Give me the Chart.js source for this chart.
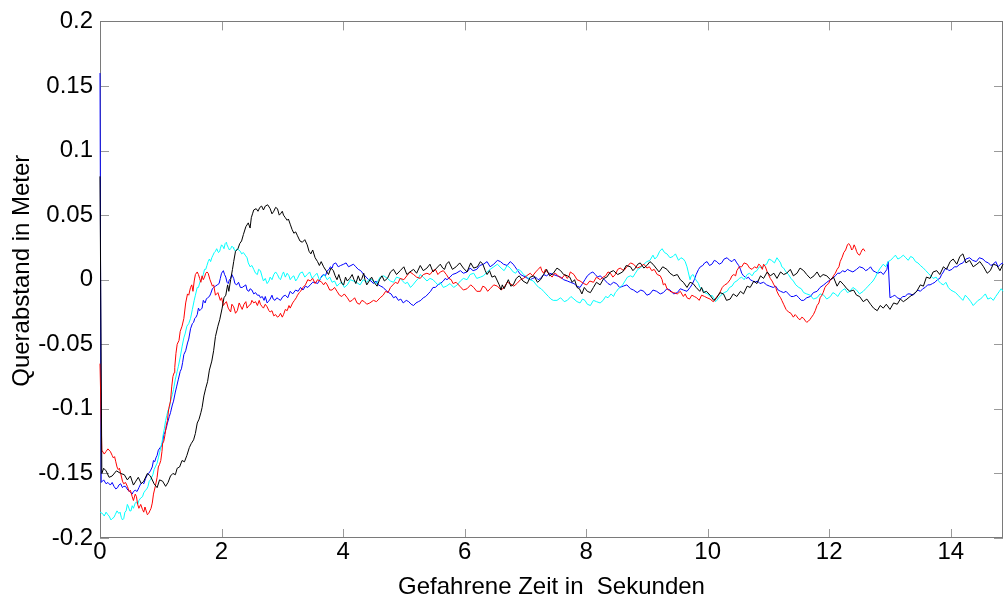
<!DOCTYPE html>
<html>
<head>
<meta charset="utf-8">
<script src="https://cdn.jsdelivr.net/npm/chart.js@4.4.1/dist/chart.umd.min.js"></script>
<style>
  html, body { margin: 0; padding: 0; background: #ffffff; }
  #c { display: block; }
</style>
</head>
<body>
<canvas id="c" width="1004" height="602"></canvas>
<script>
// Lateral offset (m) over driving time (s) for four runs, as [time, offset] pairs.
const blackRun = [[0,0.08],[0.03,-0.15],[0.06,-0.146],[0.1,-0.148],[0.15,-0.153],[0.2,-0.152],[0.27,-0.148],[0.34,-0.15],[0.4,-0.151],[0.45,-0.155],[0.5,-0.152],[0.55,-0.159],[0.59,-0.156],[0.63,-0.153],[0.68,-0.158],[0.72,-0.156],[0.78,-0.15],[0.83,-0.152],[0.89,-0.158],[0.94,-0.161],[0.98,-0.155],[1.03,-0.156],[1.08,-0.16],[1.12,-0.157],[1.16,-0.152],[1.2,-0.15],[1.24,-0.151],[1.27,-0.146],[1.31,-0.145],[1.35,-0.14],[1.39,-0.141],[1.43,-0.136],[1.47,-0.13],[1.5,-0.127],[1.54,-0.124],[1.57,-0.119],[1.6,-0.111],[1.63,-0.108],[1.66,-0.103],[1.68,-0.099],[1.71,-0.09],[1.74,-0.084],[1.77,-0.079],[1.8,-0.07],[1.84,-0.063],[1.87,-0.055],[1.9,-0.044],[1.94,-0.036],[1.97,-0.031],[2.01,-0.022],[2.04,-0.014],[2.07,-0.012],[2.1,-0.004],[2.12,-0.009],[2.15,0.0],[2.18,0.008],[2.2,0.014],[2.23,0.022],[2.27,0.024],[2.3,0.028],[2.33,0.03],[2.36,0.035],[2.4,0.041],[2.44,0.044],[2.47,0.04],[2.49,0.048],[2.51,0.051],[2.53,0.054],[2.57,0.055],[2.6,0.053],[2.63,0.056],[2.66,0.057],[2.69,0.054],[2.72,0.057],[2.76,0.058],[2.8,0.055],[2.83,0.051],[2.86,0.053],[2.89,0.056],[2.92,0.055],[2.95,0.05],[2.97,0.051],[3.0,0.053],[3.02,0.05],[3.05,0.048],[3.08,0.046],[3.1,0.047],[3.13,0.043],[3.16,0.039],[3.19,0.036],[3.22,0.037],[3.25,0.034],[3.29,0.03],[3.33,0.029],[3.37,0.031],[3.41,0.027],[3.44,0.022],[3.47,0.02],[3.5,0.023],[3.54,0.017],[3.58,0.014],[3.61,0.011],[3.64,0.014],[3.68,0.01],[3.72,0.007],[3.76,0.004],[3.8,0.009],[3.84,0.007],[3.87,0.003],[3.9,0.0],[3.93,0.004],[3.95,0.001],[3.98,-0.003],[4.01,-0.004],[4.04,0.002],[4.07,-0.001],[4.11,0.001],[4.15,0.004],[4.18,0.0],[4.21,-0.003],[4.25,0.003],[4.28,-0.001],[4.31,0.001],[4.34,0.005],[4.36,0.0],[4.39,-0.004],[4.43,-0.001],[4.47,0.002],[4.51,-0.002],[4.56,-0.005],[4.6,0.0],[4.64,0.003],[4.68,-0.001],[4.73,0.001],[4.78,0.006],[4.83,0.008],[4.88,0.004],[4.94,0.007],[5.0,0.01],[5.05,0.004],[5.1,0.006],[5.16,0.008],[5.21,0.005],[5.27,0.011],[5.32,0.007],[5.38,0.009],[5.43,0.012],[5.48,0.006],[5.54,0.009],[5.6,0.012],[5.64,0.009],[5.67,0.008],[5.7,0.012],[5.74,0.014],[5.8,0.008],[5.86,0.01],[5.92,0.013],[5.98,0.009],[6.04,0.006],[6.1,0.013],[6.15,0.009],[6.21,0.01],[6.26,0.014],[6.3,0.012],[6.34,0.007],[6.37,0.004],[6.41,0.007],[6.45,0.002],[6.5,0.003],[6.54,-0.001],[6.57,-0.004],[6.6,-0.008],[6.62,-0.004],[6.65,-0.007],[6.69,-0.003],[6.72,0.0],[6.76,-0.005],[6.8,-0.004],[6.85,0.001],[6.9,0.003],[6.96,-0.001],[7.03,-0.003],[7.08,0.002],[7.14,0.003],[7.2,-0.002],[7.25,0.0],[7.3,0.004],[7.35,0.008],[7.4,0.003],[7.46,0.005],[7.52,0.009],[7.58,0.007],[7.63,0.004],[7.69,0.003],[7.73,0.002],[7.77,-0.002],[7.81,0.0],[7.85,-0.006],[7.89,-0.007],[7.93,-0.011],[7.97,-0.006],[8.02,-0.009],[8.07,-0.01],[8.12,-0.006],[8.17,-0.002],[8.23,-0.004],[8.29,0.001],[8.34,0.002],[8.4,0.006],[8.45,0.007],[8.52,0.004],[8.6,0.006],[8.66,0.011],[8.73,0.01],[8.77,0.007],[8.81,0.009],[8.85,0.012],[8.89,0.013],[8.95,0.009],[9.0,0.011],[9.05,0.014],[9.1,0.012],[9.15,0.009],[9.2,0.006],[9.26,0.01],[9.33,0.008],[9.38,0.005],[9.44,0.003],[9.5,0.004],[9.55,0.0],[9.6,-0.002],[9.66,-0.006],[9.71,-0.002],[9.76,-0.003],[9.81,-0.006],[9.87,-0.009],[9.9,-0.006],[9.93,-0.01],[9.98,-0.009],[10.04,-0.012],[10.1,-0.016],[10.15,-0.014],[10.2,-0.01],[10.26,-0.011],[10.31,-0.016],[10.37,-0.015],[10.42,-0.011],[10.48,-0.013],[10.54,-0.009],[10.59,-0.011],[10.65,-0.005],[10.7,-0.006],[10.76,-0.001],[10.81,-0.003],[10.87,0.003],[10.92,0.001],[10.98,0.006],[11.03,0.003],[11.09,0.005],[11.14,0.001],[11.2,0.006],[11.25,0.004],[11.3,0.005],[11.36,0.008],[11.41,0.003],[11.47,0.005],[11.52,0.009],[11.58,0.007],[11.63,0.004],[11.69,0.001],[11.75,0.003],[11.8,0.006],[11.85,0.002],[11.9,0.004],[11.96,0.003],[12.02,0.0],[12.07,0.002],[12.13,-0.005],[12.18,-0.001],[12.24,-0.004],[12.29,-0.007],[12.34,-0.009],[12.4,-0.008],[12.45,-0.012],[12.5,-0.013],[12.56,-0.017],[12.62,-0.015],[12.68,-0.019],[12.73,-0.022],[12.79,-0.024],[12.84,-0.02],[12.89,-0.022],[12.94,-0.019],[13.0,-0.023],[13.06,-0.018],[13.12,-0.019],[13.17,-0.015],[13.22,-0.017],[13.28,-0.015],[13.33,-0.013],[13.39,-0.011],[13.44,-0.009],[13.5,-0.004],[13.55,-0.005],[13.6,0.002],[13.66,0.001],[13.71,0.006],[13.77,0.007],[13.82,0.004],[13.88,0.01],[13.93,0.008],[13.99,0.014],[14.04,0.016],[14.1,0.012],[14.15,0.018],[14.2,0.02],[14.25,0.013],[14.31,0.015],[14.37,0.01],[14.43,0.012],[14.48,0.014],[14.54,0.01],[14.6,0.005],[14.65,0.007],[14.7,0.012],[14.76,0.011],[14.81,0.007],[14.86,0.012]];

const redRun = [[0,-0.065],[0.03,-0.132],[0.07,-0.135],[0.1,-0.133],[0.13,-0.131],[0.17,-0.133],[0.2,-0.136],[0.22,-0.138],[0.24,-0.137],[0.26,-0.141],[0.28,-0.145],[0.3,-0.147],[0.32,-0.146],[0.34,-0.15],[0.37,-0.156],[0.39,-0.158],[0.42,-0.157],[0.45,-0.16],[0.48,-0.164],[0.5,-0.163],[0.53,-0.168],[0.55,-0.171],[0.58,-0.166],[0.6,-0.168],[0.62,-0.174],[0.64,-0.177],[0.67,-0.174],[0.7,-0.178],[0.72,-0.18],[0.74,-0.176],[0.76,-0.179],[0.78,-0.182],[0.8,-0.181],[0.82,-0.179],[0.84,-0.177],[0.86,-0.173],[0.88,-0.166],[0.91,-0.16],[0.94,-0.153],[0.96,-0.145],[0.98,-0.143],[1.0,-0.14],[1.02,-0.133],[1.03,-0.127],[1.05,-0.125],[1.07,-0.12],[1.09,-0.113],[1.11,-0.109],[1.13,-0.1],[1.16,-0.094],[1.18,-0.083],[1.2,-0.075],[1.22,-0.072],[1.23,-0.068],[1.25,-0.057],[1.27,-0.05],[1.3,-0.047],[1.32,-0.04],[1.35,-0.036],[1.38,-0.03],[1.41,-0.018],[1.44,-0.011],[1.46,-0.012],[1.49,-0.006],[1.51,-0.004],[1.53,-0.009],[1.55,-0.001],[1.57,0.004],[1.6,0.006],[1.62,0.004],[1.64,0.001],[1.66,-0.002],[1.68,0.003],[1.7,0.0],[1.72,0.002],[1.74,0.005],[1.76,0.006],[1.78,0.005],[1.81,0.0],[1.85,-0.005],[1.87,-0.004],[1.9,-0.012],[1.94,-0.01],[1.98,-0.016],[2.0,-0.014],[2.03,-0.02],[2.06,-0.018],[2.08,-0.017],[2.11,-0.022],[2.15,-0.025],[2.17,-0.019],[2.2,-0.021],[2.23,-0.026],[2.26,-0.024],[2.29,-0.018],[2.31,-0.02],[2.34,-0.023],[2.37,-0.019],[2.4,-0.017],[2.42,-0.022],[2.45,-0.02],[2.48,-0.019],[2.5,-0.016],[2.53,-0.018],[2.56,-0.017],[2.59,-0.02],[2.62,-0.016],[2.64,-0.019],[2.67,-0.021],[2.69,-0.022],[2.72,-0.019],[2.75,-0.021],[2.78,-0.024],[2.8,-0.025],[2.83,-0.024],[2.86,-0.028],[2.89,-0.027],[2.92,-0.029],[2.95,-0.028],[2.97,-0.026],[3.0,-0.029],[3.02,-0.027],[3.05,-0.023],[3.08,-0.024],[3.11,-0.02],[3.13,-0.022],[3.17,-0.018],[3.2,-0.016],[3.23,-0.014],[3.25,-0.012],[3.28,-0.01],[3.3,-0.009],[3.34,-0.006],[3.38,-0.004],[3.42,0.0],[3.46,-0.001],[3.5,0.001],[3.54,-0.003],[3.58,0.0],[3.62,-0.001],[3.65,-0.002],[3.68,-0.004],[3.71,-0.002],[3.74,-0.004],[3.78,-0.008],[3.82,-0.008],[3.86,-0.006],[3.9,-0.009],[3.94,-0.012],[3.98,-0.013],[4.02,-0.011],[4.07,-0.014],[4.11,-0.017],[4.15,-0.016],[4.19,-0.014],[4.23,-0.018],[4.27,-0.019],[4.31,-0.016],[4.35,-0.017],[4.39,-0.019],[4.44,-0.018],[4.5,-0.016],[4.55,-0.017],[4.61,-0.014],[4.66,-0.012],[4.7,-0.009],[4.74,-0.01],[4.78,-0.006],[4.82,-0.004],[4.86,-0.002],[4.9,-0.003],[4.94,0.001],[5.0,0.0],[5.05,0.003],[5.1,0.006],[5.16,0.004],[5.21,0.002],[5.27,0.001],[5.32,0.004],[5.38,0.005],[5.43,0.004],[5.48,0.007],[5.52,0.008],[5.56,0.004],[5.6,0.006],[5.65,0.007],[5.7,0.004],[5.74,0.001],[5.78,0.0],[5.81,-0.003],[5.86,-0.002],[5.92,-0.005],[5.98,-0.008],[6.04,-0.007],[6.1,-0.004],[6.15,-0.006],[6.2,-0.009],[6.26,-0.009],[6.3,-0.005],[6.34,-0.006],[6.38,-0.009],[6.42,-0.007],[6.48,-0.004],[6.54,-0.005],[6.6,-0.008],[6.65,-0.006],[6.7,-0.002],[6.75,-0.003],[6.81,-0.005],[6.86,-0.003],[6.92,0.0],[6.97,0.001],[7.02,0.003],[7.08,0.005],[7.12,0.003],[7.17,0.006],[7.21,0.008],[7.25,0.01],[7.27,0.007],[7.3,0.005],[7.33,0.008],[7.36,0.006],[7.4,0.004],[7.44,0.002],[7.48,0.005],[7.52,0.004],[7.56,0.002],[7.6,0.001],[7.65,0.004],[7.69,0.001],[7.72,0.003],[7.74,0.006],[7.77,0.005],[7.8,0.004],[7.85,0.0],[7.9,-0.001],[7.96,-0.003],[8.01,-0.004],[8.06,-0.001],[8.12,-0.002],[8.17,0.002],[8.23,0.0],[8.28,0.002],[8.32,0.003],[8.36,0.006],[8.4,0.005],[8.44,0.002],[8.48,0.004],[8.52,0.008],[8.56,0.009],[8.62,0.007],[8.67,0.01],[8.73,0.013],[8.78,0.012],[8.84,0.009],[8.89,0.01],[8.95,0.012],[9.0,0.009],[9.04,0.01],[9.08,0.007],[9.12,0.008],[9.17,0.004],[9.22,0.003],[9.25,0.0],[9.27,-0.004],[9.3,-0.003],[9.33,-0.007],[9.36,-0.008],[9.38,-0.009],[9.44,-0.01],[9.5,-0.011],[9.55,-0.009],[9.6,-0.013],[9.63,-0.011],[9.66,-0.014],[9.7,-0.015],[9.74,-0.012],[9.78,-0.013],[9.82,-0.014],[9.86,-0.016],[9.9,-0.012],[9.95,-0.013],[9.99,-0.014],[10.04,-0.015],[10.09,-0.017],[10.12,-0.016],[10.15,-0.013],[10.18,-0.012],[10.2,-0.01],[10.24,-0.006],[10.28,-0.004],[10.32,-0.003],[10.37,0.0],[10.4,0.003],[10.43,0.004],[10.46,0.003],[10.48,0.007],[10.52,0.01],[10.56,0.01],[10.6,0.013],[10.65,0.012],[10.69,0.009],[10.73,0.008],[10.77,0.01],[10.81,0.009],[10.84,0.012],[10.87,0.011],[10.9,0.008],[10.92,0.012],[10.95,0.01],[10.98,0.006],[11.0,0.004],[11.03,0.001],[11.06,-0.001],[11.09,-0.004],[11.12,-0.006],[11.14,-0.009],[11.17,-0.012],[11.2,-0.014],[11.22,-0.016],[11.25,-0.019],[11.29,-0.023],[11.33,-0.025],[11.37,-0.026],[11.41,-0.029],[11.44,-0.027],[11.46,-0.028],[11.49,-0.03],[11.52,-0.031],[11.55,-0.029],[11.58,-0.03],[11.61,-0.032],[11.63,-0.033],[11.66,-0.032],[11.68,-0.031],[11.71,-0.029],[11.74,-0.027],[11.77,-0.024],[11.8,-0.02],[11.83,-0.018],[11.85,-0.014],[11.88,-0.012],[11.9,-0.01],[11.93,-0.006],[11.96,-0.004],[11.99,-0.003],[12.02,0.0],[12.05,0.001],[12.07,0.003],[12.1,0.005],[12.13,0.008],[12.16,0.01],[12.18,0.014],[12.21,0.017],[12.24,0.021],[12.27,0.023],[12.3,0.027],[12.32,0.028],[12.35,0.026],[12.37,0.023],[12.39,0.024],[12.41,0.027],[12.43,0.025],[12.45,0.022],[12.47,0.02],[12.5,0.019],[12.52,0.021],[12.54,0.023],[12.56,0.024],[12.59,0.022]];

const cyanRun = [[0,-0.18],[0.04,-0.181],[0.07,-0.183],[0.1,-0.18],[0.13,-0.182],[0.15,-0.183],[0.18,-0.186],[0.2,-0.185],[0.23,-0.184],[0.25,-0.182],[0.28,-0.179],[0.31,-0.181],[0.33,-0.18],[0.35,-0.184],[0.37,-0.186],[0.39,-0.185],[0.41,-0.18],[0.43,-0.179],[0.45,-0.174],[0.47,-0.176],[0.49,-0.179],[0.51,-0.179],[0.53,-0.175],[0.55,-0.177],[0.58,-0.173],[0.6,-0.172],[0.62,-0.174],[0.64,-0.171],[0.67,-0.169],[0.7,-0.168],[0.72,-0.165],[0.75,-0.163],[0.77,-0.162],[0.79,-0.16],[0.81,-0.156],[0.83,-0.155],[0.85,-0.153],[0.87,-0.151],[0.89,-0.147],[0.91,-0.145],[0.94,-0.142],[0.96,-0.138],[0.98,-0.134],[1.0,-0.13],[1.02,-0.126],[1.04,-0.12],[1.06,-0.115],[1.08,-0.109],[1.1,-0.105],[1.12,-0.101],[1.14,-0.1],[1.16,-0.094],[1.19,-0.089],[1.21,-0.085],[1.24,-0.077],[1.27,-0.071],[1.29,-0.067],[1.32,-0.06],[1.35,-0.052],[1.38,-0.045],[1.4,-0.042],[1.43,-0.036],[1.46,-0.034],[1.49,-0.03],[1.52,-0.023],[1.55,-0.016],[1.57,-0.012],[1.6,-0.006],[1.62,-0.006],[1.65,-0.001],[1.67,0.0],[1.7,0.004],[1.72,0.008],[1.74,0.008],[1.76,0.011],[1.78,0.014],[1.8,0.016],[1.82,0.014],[1.84,0.017],[1.86,0.019],[1.88,0.021],[1.9,0.022],[1.92,0.024],[1.95,0.021],[1.97,0.022],[1.98,0.024],[2.0,0.027],[2.02,0.026],[2.04,0.024],[2.06,0.028],[2.08,0.029],[2.09,0.027],[2.11,0.025],[2.13,0.023],[2.15,0.024],[2.17,0.026],[2.19,0.025],[2.2,0.024],[2.23,0.022],[2.26,0.024],[2.28,0.023],[2.31,0.022],[2.33,0.02],[2.36,0.021],[2.39,0.019],[2.42,0.017],[2.44,0.013],[2.47,0.01],[2.5,0.011],[2.53,0.008],[2.56,0.005],[2.59,0.004],[2.61,0.008],[2.64,0.007],[2.67,0.002],[2.69,-0.001],[2.72,0.001],[2.75,-0.003],[2.78,-0.001],[2.8,0.002],[2.83,0.0],[2.86,0.004],[2.89,0.006],[2.92,0.004],[2.95,0.001],[2.97,0.0],[3.0,0.004],[3.02,0.006],[3.05,0.002],[3.08,0.005],[3.11,0.003],[3.13,0.0],[3.16,0.002],[3.19,0.003],[3.22,-0.001],[3.25,0.001],[3.29,0.005],[3.33,0.006],[3.37,0.002],[3.41,0.004],[3.45,0.006],[3.49,0.001],[3.53,0.003],[3.57,0.005],[3.61,0.0],[3.65,0.002],[3.69,0.004],[3.74,0.0],[3.78,0.002],[3.82,-0.002],[3.86,-0.001],[3.9,-0.005],[3.94,-0.003],[3.98,-0.002],[4.02,-0.006],[4.07,-0.004],[4.12,0.0],[4.17,-0.001],[4.22,-0.002],[4.28,-0.004],[4.33,0.0],[4.39,-0.002],[4.44,0.001],[4.5,-0.001],[4.55,-0.003],[4.61,0.002],[4.67,0.003],[4.73,0.001],[4.78,-0.001],[4.83,-0.002],[4.88,0.002],[4.94,0.001],[4.98,-0.001],[5.02,-0.003],[5.06,-0.002],[5.11,-0.006],[5.15,-0.004],[5.2,-0.001],[5.24,0.001],[5.27,0.004],[5.32,0.002],[5.38,-0.001],[5.43,0.001],[5.48,0.0],[5.52,-0.002],[5.56,-0.004],[5.6,-0.002],[5.65,-0.006],[5.7,-0.005],[5.76,-0.003],[5.82,-0.006],[5.88,-0.004],[5.93,-0.001],[5.98,0.001],[6.04,0.0],[6.09,0.004],[6.15,0.005],[6.2,0.001],[6.26,0.002],[6.31,0.003],[6.37,0.006],[6.42,0.008],[6.48,0.01],[6.54,0.012],[6.6,0.009],[6.65,0.007],[6.7,0.011],[6.75,0.009],[6.8,0.006],[6.84,0.005],[6.88,0.008],[6.92,0.007],[6.97,0.004],[7.03,0.002],[7.08,0.0],[7.13,-0.001],[7.18,-0.004],[7.22,-0.006],[7.26,-0.007],[7.3,-0.009],[7.34,-0.011],[7.38,-0.013],[7.42,-0.015],[7.46,-0.016],[7.52,-0.016],[7.58,-0.014],[7.64,-0.017],[7.69,-0.016],[7.75,-0.013],[7.8,-0.015],[7.85,-0.017],[7.9,-0.018],[7.94,-0.015],[7.98,-0.016],[8.02,-0.019],[8.07,-0.02],[8.12,-0.016],[8.17,-0.017],[8.23,-0.018],[8.28,-0.016],[8.32,-0.013],[8.36,-0.014],[8.41,-0.011],[8.45,-0.013],[8.48,-0.01],[8.5,-0.009],[8.53,-0.007],[8.56,-0.006],[8.6,-0.004],[8.64,-0.001],[8.68,0.002],[8.73,0.003],[8.77,0.002],[8.81,0.005],[8.85,0.008],[8.89,0.009],[8.95,0.012],[9.0,0.014],[9.05,0.015],[9.1,0.019],[9.13,0.016],[9.17,0.018],[9.21,0.022],[9.25,0.024],[9.29,0.021],[9.33,0.02],[9.38,0.017],[9.43,0.018],[9.47,0.02],[9.52,0.015],[9.56,0.017],[9.6,0.016],[9.63,0.014],[9.66,0.01],[9.68,0.006],[9.71,0.0],[9.73,0.003],[9.76,0.004],[9.79,0.001],[9.82,-0.001],[9.85,-0.003],[9.87,-0.006],[9.91,-0.007],[9.95,-0.01],[10.0,-0.011],[10.04,-0.013],[10.07,-0.012],[10.1,-0.014],[10.13,-0.017],[10.15,-0.016],[10.18,-0.014],[10.22,-0.012],[10.27,-0.01],[10.32,-0.009],[10.36,-0.006],[10.4,-0.005],[10.44,-0.002],[10.48,-0.001],[10.52,0.001],[10.56,0.002],[10.6,0.0],[10.65,0.004],[10.69,0.005],[10.73,0.003],[10.77,0.006],[10.81,0.007],[10.85,0.01],[10.89,0.009],[10.93,0.011],[10.97,0.012],[11.01,0.016],[11.05,0.015],[11.1,0.013],[11.14,0.017],[11.17,0.015],[11.2,0.013],[11.22,0.01],[11.25,0.009],[11.29,0.006],[11.33,0.004],[11.37,0.001],[11.41,-0.001],[11.45,-0.004],[11.5,-0.006],[11.54,-0.007],[11.58,-0.01],[11.63,-0.011],[11.69,-0.012],[11.74,-0.015],[11.8,-0.014],[11.85,-0.011],[11.91,-0.012],[11.96,-0.015],[12.02,-0.013],[12.06,-0.01],[12.1,-0.011],[12.14,-0.013],[12.18,-0.01],[12.22,-0.008],[12.26,-0.007],[12.3,-0.01],[12.34,-0.009],[12.39,-0.006],[12.45,-0.008],[12.5,-0.011],[12.56,-0.009],[12.6,-0.007],[12.64,-0.005],[12.68,-0.003],[12.72,-0.001],[12.76,0.002],[12.8,0.006],[12.84,0.009],[12.89,0.012],[12.93,0.01],[12.97,0.014],[13.01,0.015],[13.05,0.017],[13.09,0.019],[13.13,0.016],[13.17,0.017],[13.22,0.019],[13.26,0.017],[13.3,0.015],[13.34,0.018],[13.38,0.017],[13.42,0.014],[13.46,0.013],[13.5,0.011],[13.55,0.009],[13.59,0.007],[13.63,0.005],[13.67,0.003],[13.71,0.001],[13.76,0.002],[13.8,-0.001],[13.84,-0.003],[13.88,-0.004],[13.92,-0.002],[13.96,-0.006],[14.0,-0.008],[14.04,-0.009],[14.08,-0.01],[14.12,-0.012],[14.16,-0.014],[14.2,-0.016],[14.24,-0.012],[14.28,-0.014],[14.33,-0.017],[14.37,-0.02],[14.41,-0.018],[14.45,-0.016],[14.49,-0.015],[14.53,-0.013],[14.57,-0.011],[14.61,-0.015],[14.66,-0.014],[14.7,-0.016],[14.74,-0.013],[14.77,-0.011],[14.8,-0.009],[14.83,-0.007],[14.86,-0.009]];

const blueRun = [[0,0.16],[0.02,-0.157],[0.06,-0.155],[0.1,-0.158],[0.13,-0.157],[0.17,-0.159],[0.2,-0.157],[0.23,-0.16],[0.26,-0.162],[0.29,-0.161],[0.31,-0.159],[0.34,-0.158],[0.37,-0.161],[0.39,-0.16],[0.42,-0.16],[0.46,-0.163],[0.49,-0.164],[0.53,-0.166],[0.55,-0.164],[0.58,-0.163],[0.61,-0.164],[0.64,-0.161],[0.67,-0.158],[0.7,-0.157],[0.72,-0.158],[0.75,-0.154],[0.78,-0.151],[0.8,-0.15],[0.83,-0.148],[0.86,-0.145],[0.88,-0.14],[0.9,-0.141],[0.92,-0.138],[0.94,-0.136],[0.96,-0.132],[0.99,-0.13],[1.01,-0.129],[1.03,-0.126],[1.05,-0.12],[1.07,-0.118],[1.09,-0.115],[1.11,-0.111],[1.14,-0.106],[1.16,-0.103],[1.19,-0.097],[1.21,-0.094],[1.24,-0.087],[1.26,-0.083],[1.29,-0.077],[1.32,-0.071],[1.34,-0.069],[1.36,-0.064],[1.38,-0.058],[1.41,-0.055],[1.44,-0.049],[1.46,-0.046],[1.49,-0.038],[1.52,-0.034],[1.54,-0.033],[1.56,-0.03],[1.58,-0.029],[1.6,-0.027],[1.62,-0.022],[1.64,-0.024],[1.66,-0.023],[1.68,-0.022],[1.7,-0.016],[1.73,-0.018],[1.75,-0.015],[1.77,-0.014],[1.8,-0.013],[1.82,-0.011],[1.85,-0.007],[1.87,-0.006],[1.9,-0.005],[1.93,-0.004],[1.96,-0.003],[1.98,0.001],[2.0,0.005],[2.03,0.007],[2.05,0.004],[2.07,0.002],[2.09,-0.002],[2.11,-0.003],[2.13,0.0],[2.15,0.001],[2.17,0.004],[2.2,0.001],[2.22,-0.003],[2.25,-0.004],[2.28,-0.002],[2.31,-0.006],[2.34,-0.006],[2.37,-0.005],[2.4,-0.004],[2.42,-0.008],[2.45,-0.009],[2.47,-0.007],[2.5,-0.008],[2.53,-0.011],[2.56,-0.01],[2.59,-0.012],[2.62,-0.012],[2.64,-0.014],[2.67,-0.013],[2.7,-0.016],[2.72,-0.013],[2.75,-0.018],[2.77,-0.017],[2.8,-0.015],[2.83,-0.012],[2.85,-0.015],[2.88,-0.016],[2.91,-0.014],[2.94,-0.015],[2.97,-0.016],[3.01,-0.013],[3.05,-0.012],[3.09,-0.014],[3.13,-0.009],[3.17,-0.011],[3.22,-0.008],[3.26,-0.009],[3.3,-0.006],[3.34,-0.008],[3.38,-0.005],[3.42,-0.006],[3.46,-0.004],[3.5,-0.002],[3.54,-0.002],[3.58,-0.003],[3.62,0.0],[3.65,0.003],[3.68,0.004],[3.71,0.003],[3.74,0.007],[3.77,0.008],[3.79,0.01],[3.82,0.009],[3.84,0.012],[3.88,0.013],[3.92,0.01],[3.96,0.011],[4.01,0.012],[4.05,0.013],[4.09,0.01],[4.13,0.011],[4.17,0.012],[4.21,0.01],[4.25,0.008],[4.29,0.007],[4.34,0.004],[4.38,0.002],[4.42,0.0],[4.46,-0.001],[4.5,-0.003],[4.54,-0.001],[4.58,-0.004],[4.62,-0.005],[4.66,-0.006],[4.7,-0.008],[4.75,-0.01],[4.79,-0.011],[4.83,-0.014],[4.87,-0.013],[4.91,-0.016],[4.95,-0.015],[4.99,-0.018],[5.04,-0.016],[5.08,-0.017],[5.12,-0.019],[5.16,-0.02],[5.2,-0.018],[5.24,-0.017],[5.28,-0.016],[5.32,-0.014],[5.36,-0.013],[5.4,-0.011],[5.44,-0.009],[5.48,-0.006],[5.52,-0.006],[5.56,-0.004],[5.6,-0.003],[5.65,-0.001],[5.68,0.001],[5.71,0.0],[5.76,0.002],[5.8,0.004],[5.86,0.005],[5.93,0.007],[5.98,0.005],[6.04,0.006],[6.09,0.009],[6.14,0.007],[6.2,0.008],[6.25,0.011],[6.31,0.012],[6.37,0.014],[6.42,0.01],[6.48,0.012],[6.54,0.015],[6.59,0.014],[6.64,0.012],[6.7,0.011],[6.75,0.014],[6.8,0.012],[6.83,0.01],[6.86,0.008],[6.89,0.006],[6.92,0.004],[6.96,0.003],[7.0,0.002],[7.04,0.001],[7.08,0.0],[7.12,0.001],[7.17,0.002],[7.21,0.0],[7.25,0.001],[7.3,0.004],[7.35,0.003],[7.4,0.005],[7.46,0.004],[7.52,0.003],[7.58,0.002],[7.63,0.0],[7.69,-0.001],[7.74,-0.002],[7.8,-0.003],[7.85,-0.005],[7.9,-0.006],[7.94,-0.003],[7.98,0.0],[8.02,0.003],[8.07,0.005],[8.11,0.006],[8.15,0.004],[8.19,0.002],[8.23,0.003],[8.28,0.001],[8.32,-0.001],[8.36,-0.003],[8.4,-0.004],[8.45,-0.002],[8.5,-0.003],[8.55,-0.006],[8.61,-0.005],[8.67,-0.004],[8.73,-0.007],[8.78,-0.008],[8.84,-0.01],[8.9,-0.008],[8.95,-0.009],[9.0,-0.012],[9.05,-0.011],[9.1,-0.008],[9.16,-0.009],[9.22,-0.011],[9.27,-0.01],[9.33,-0.007],[9.38,-0.008],[9.44,-0.011],[9.5,-0.01],[9.55,-0.007],[9.6,-0.008],[9.66,-0.009],[9.71,-0.006],[9.74,-0.004],[9.78,0.0],[9.81,0.004],[9.85,0.008],[9.88,0.01],[9.92,0.011],[9.95,0.013],[9.99,0.014],[10.03,0.011],[10.07,0.012],[10.11,0.015],[10.15,0.014],[10.19,0.012],[10.23,0.013],[10.27,0.016],[10.32,0.017],[10.36,0.015],[10.4,0.014],[10.44,0.016],[10.48,0.013],[10.51,0.011],[10.54,0.008],[10.56,0.005],[10.59,0.003],[10.62,0.002],[10.64,0.001],[10.67,0.002],[10.7,0.0],[10.74,-0.001],[10.78,-0.002],[10.82,-0.001],[10.86,-0.003],[10.92,-0.002],[10.97,-0.004],[11.02,-0.005],[11.08,-0.006],[11.12,-0.005],[11.16,-0.008],[11.2,-0.009],[11.25,-0.01],[11.29,-0.009],[11.33,-0.011],[11.37,-0.013],[11.41,-0.013],[11.46,-0.012],[11.5,-0.014],[11.54,-0.016],[11.58,-0.016],[11.63,-0.014],[11.69,-0.013],[11.74,-0.01],[11.8,-0.009],[11.85,-0.006],[11.91,-0.004],[11.96,-0.002],[12.02,0.0],[12.06,0.001],[12.1,0.003],[12.14,0.005],[12.18,0.005],[12.22,0.007],[12.26,0.006],[12.3,0.008],[12.34,0.007],[12.39,0.006],[12.45,0.008],[12.5,0.01],[12.56,0.009],[12.6,0.007],[12.64,0.008],[12.68,0.01],[12.72,0.007],[12.76,0.006],[12.8,0.005],[12.85,0.006],[12.89,0.004],[12.92,0.006],[12.95,0.008],[12.97,0.014],[13.0,-0.014],[13.04,-0.013],[13.08,-0.012],[13.12,-0.014],[13.17,-0.015],[13.21,-0.013],[13.25,-0.013],[13.29,-0.011],[13.33,-0.011],[13.38,-0.012],[13.42,-0.01],[13.46,-0.008],[13.5,-0.009],[13.54,-0.007],[13.58,-0.006],[13.62,-0.004],[13.66,-0.004],[13.7,-0.003],[13.74,-0.002],[13.78,0.0],[13.82,0.001],[13.85,0.004],[13.88,0.006],[13.9,0.008],[13.93,0.009],[13.97,0.007],[14.02,0.008],[14.06,0.01],[14.1,0.01],[14.15,0.012],[14.2,0.013],[14.25,0.016],[14.31,0.017],[14.36,0.015],[14.42,0.014],[14.47,0.017],[14.53,0.016],[14.57,0.014],[14.62,0.013],[14.66,0.011],[14.7,0.012],[14.74,0.014],[14.78,0.01],[14.82,0.012],[14.86,0.013]];

// Axis ticks and range
const xTicks = [0, 2, 4, 6, 8, 10, 12, 14];
const yTicks = [-0.2, -0.15, -0.1, -0.05, 0, 0.05, 0.1, 0.15, 0.2];
const xRange = [0, 14.86];
const yRange = [-0.2, 0.2];

const FONT = 'Arial, "Liberation Sans", Helvetica, sans-serif';
const AXIS_COLOR = '#7a7a7a';
const TICK_COLOR = '#9a9a9a';
const TICK_LEN = 9;

const toPoints = run => run.map(([t, v]) => ({ x: t, y: v }));

// Box around the plot area with inward tick marks on all four sides
const boxPlugin = {
  id: 'box',
  beforeDatasetsDraw(chart) {
    const { ctx, chartArea: a, scales: { x, y } } = chart;
    ctx.save();
    ctx.lineWidth = 1;
    ctx.strokeStyle = TICK_COLOR;
    ctx.beginPath();
    xTicks.forEach(v => {
      const px = Math.round(x.getPixelForValue(v)) + 0.5;
      ctx.moveTo(px, a.bottom); ctx.lineTo(px, a.bottom - TICK_LEN);
      ctx.moveTo(px, a.top); ctx.lineTo(px, a.top + TICK_LEN);
    });
    yTicks.forEach(v => {
      const py = Math.round(y.getPixelForValue(v)) + 0.5;
      ctx.moveTo(a.left, py); ctx.lineTo(a.left + TICK_LEN, py);
      ctx.moveTo(a.right, py); ctx.lineTo(a.right - TICK_LEN, py);
    });
    ctx.stroke();
    ctx.strokeStyle = AXIS_COLOR;
    ctx.lineWidth = 1;
    ctx.strokeRect(Math.round(a.left) + 0.5, Math.round(a.top) + 0.5,
                   Math.round(a.right - a.left) - 1, Math.round(a.bottom - a.top) - 1);
    ctx.restore();
  },
  afterDraw(chart) {
    const { ctx, chartArea: a } = chart;
    ctx.save();
    ctx.fillStyle = '#000';
    ctx.font = '24px ' + FONT;
    ctx.textAlign = 'center';
    ctx.textBaseline = 'middle';
    ctx.translate(22, (a.top + a.bottom) / 2 - 9);
    ctx.rotate(-Math.PI / 2);
    ctx.fillText('Querabstand in Meter', 0, 0);
    ctx.restore();
  }
};

const lineSet = (data, color) => ({
  data: toPoints(data),
  borderColor: color,
  borderWidth: 1,
  pointRadius: 0,
  tension: 0,
  fill: false,
  clip: 3
});

new Chart(document.getElementById('c'), {
  type: 'line',
  data: {
    datasets: [
      lineSet(blackRun, '#000000'),
      lineSet(redRun, '#ff0000'),
      lineSet(cyanRun, '#00ffff'),
      lineSet(blueRun, '#0000ff')
    ]
  },
  options: {
    responsive: false,
    devicePixelRatio: 1,
    animation: false,
    parsing: false,
    normalized: true,
    layout: { padding: { top: 19, right: 1, left: 0, bottom: 0 } },
    plugins: { legend: { display: false }, tooltip: { enabled: false } },
    scales: {
      x: {
        type: 'linear',
        min: xRange[0],
        max: xRange[1],
        afterBuildTicks: s => { s.ticks = xTicks.map(v => ({ value: v })); },
        afterFit: s => { s.height = 64; },
        grid: { display: false, drawTicks: false },
        border: { display: false },
        ticks: {
          color: '#000',
          font: { family: FONT, size: 24, lineHeight: 1.2 },
          padding: 0,
          maxRotation: 0,
          autoSkip: false,
          callback: v => String(v)
        },
        title: {
          display: true,
          text: 'Gefahrene Zeit in  Sekunden',
          color: '#000',
          font: { family: FONT, size: 24, lineHeight: 1 },
          padding: { top: 0, bottom: 3 }
        }
      },
      y: {
        type: 'linear',
        min: yRange[0],
        max: yRange[1],
        afterBuildTicks: s => { s.ticks = yTicks.map(v => ({ value: v })); },
        afterFit: s => { s.width = 100; },
        grid: { display: false, drawTicks: false },
        border: { display: false },
        ticks: {
          color: '#000',
          font: { family: FONT, size: 24 },
          padding: 7,
          autoSkip: false,
          callback: v => String(Math.round(v * 100) / 100)
        }
      }
    }
  },
  plugins: [boxPlugin]
});
</script>
</body>
</html>
